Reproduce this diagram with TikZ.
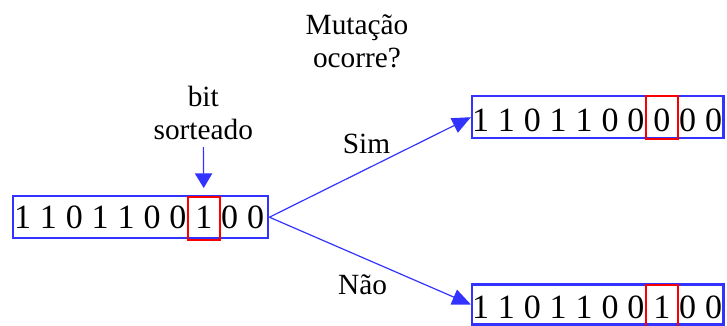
\documentclass[tikz,border=0pt]{standalone}
\usepackage{fontspec}
\setmainfont{Liberation Serif}
\usetikzlibrary{arrows.meta}
\definecolor{boxblue}{RGB}{51,51,255}
\definecolor{pickred}{RGB}{250,0,0}

\begin{document}
\begin{tikzpicture}[x=0.75pt,y=-0.75pt,
  bitrow/.style={draw=boxblue, line width=1.7pt, minimum height=31.5pt, inner sep=0pt},
  digit/.style={font=\fontsize{25.5}{30}\selectfont, inner sep=0pt, anchor=base},
  pick/.style={draw=pickred, line width=1.7pt, minimum width=23.8pt, minimum height=32.25pt, inner sep=0pt, anchor=north},
  caption/.style={font=\fontsize{22}{24.75}\selectfont, inner sep=0pt, align=center},
  link/.style={draw=boxblue, line width=0.9pt, -{Triangle[length=14pt,width=12pt]}},
  droplink/.style={draw=boxblue, line width=0.9pt, -{Triangle[length=11pt,width=13pt]}}
]
\useasboundingbox (0,0) rectangle (727,325);

% chromosome boxes
\node[bitrow, minimum width=191.25pt] (src) at (140.8,217.2) {};
\node[bitrow, minimum width=188.5pt] (yes) at (597.7,117.2) {};
\node[bitrow, minimum width=188.5pt, minimum height=30pt] (no) at (597.7,304.5) {};

% original chromosome
\foreach \d [count=\i from 0] in {1,1,0,1,1,0,0,1,0,0}
  \node[digit] (s\i) at (22.5+\i*25.9,228.5) {\d};
% mutated chromosome
\foreach \d [count=\i from 0] in {1,1,0,1,1,0,0,0,0,0}
  \node[digit] (y\i) at (480.5+\i*25.9,131) {\d};
% unchanged chromosome
\foreach \d [count=\i from 0] in {1,1,0,1,1,0,0,1,0,0}
  \node[digit] (n\i) at (480.5+\i*25.9,318) {\d};

% highlighted bit
\node[pick] (ps) at (22.5+7*25.9,195.5) {};
\node[pick] (py) at (480.5+7*25.9,95) {};
\node[pick] (pn) at (480.5+7*25.9,283.5) {};

% captions
\node[caption, anchor=south] (q) at (357,68) {Mutação\\ocorre?};
\node[caption, anchor=south] (bs) at (203.3,140) {bit\\sorteado};
\node[caption, anchor=base] (sim) at (366.5,153) {Sim};
\node[caption, anchor=base] (nao) at (362.5,294) {Não};

% arrows
\draw[droplink, shorten <=5.25pt, shorten >=5.6pt] (bs.south) -- (ps.north);
\draw[link] (src.east) -- (yes.west);
\draw[link] (src.east) -- (no.west);
\end{tikzpicture}
\end{document}
